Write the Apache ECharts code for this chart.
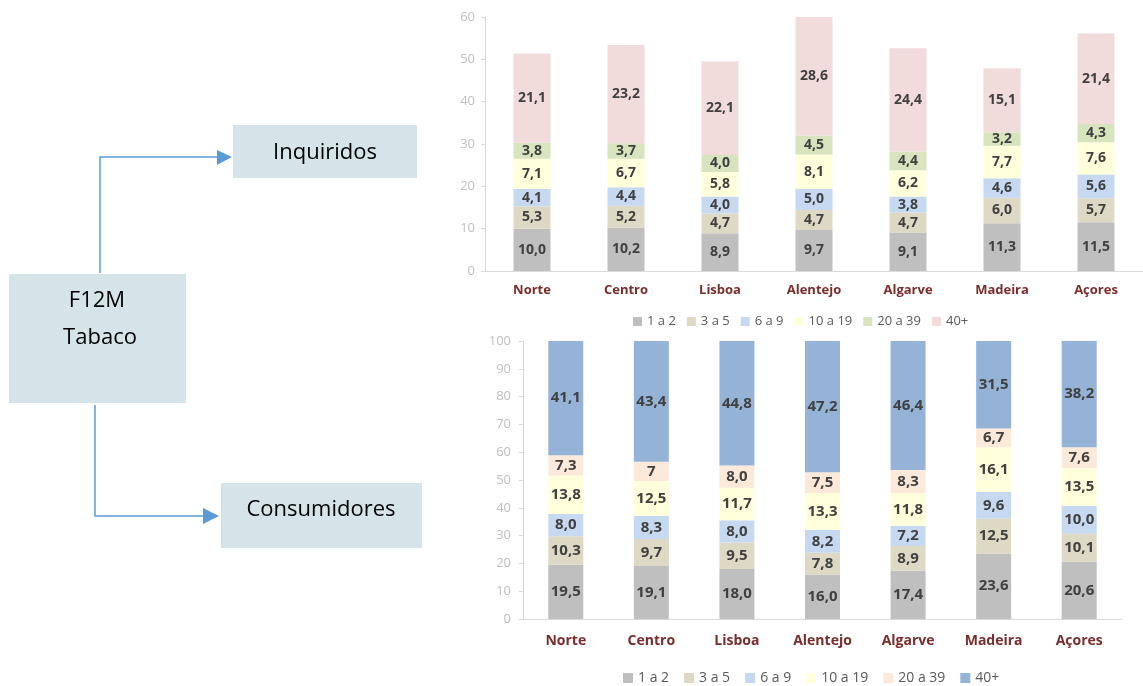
<!DOCTYPE html>
<html>
<head>
<meta charset="utf-8">
<script src="https://cdn.jsdelivr.net/npm/echarts@6/dist/echarts.min.js"></script>
<style>
  html, body { margin: 0; padding: 0; background: #ffffff; }
  #chart { width: 1143px; height: 686px; }
</style>
</head>
<body>
<div id="chart"></div>
<script>
// Regions (NUTS II)
const regions = ['Norte', 'Centro', 'Lisboa', 'Alentejo', 'Algarve', 'Madeira', 'Açores'];
// Daily consumption classes
const classes = ['1 a 2', '3 a 5', '6 a 9', '10 a 19', '20 a 39', '40+'];

// Inquiridos: share per class, by region (one decimal, as printed)
const inq_1a2   = ['10.0', '10.2', '8.9', '9.7', '9.1', '11.3', '11.5'];
const inq_3a5   = ['5.3', '5.2', '4.7', '4.7', '4.7', '6.0', '5.7'];
const inq_6a9   = ['4.1', '4.4', '4.0', '5.0', '3.8', '4.6', '5.6'];
const inq_10a19 = ['7.1', '6.7', '5.8', '8.1', '6.2', '7.7', '7.6'];
const inq_20a39 = ['3.8', '3.7', '4.0', '4.5', '4.4', '3.2', '4.3'];
const inq_40    = ['21.1', '23.2', '22.1', '28.6', '24.4', '15.1', '21.4'];

// Consumidores: share per class, by region
const con_1a2   = ['19.5', '19.1', '18.0', '16.0', '17.4', '23.6', '20.6'];
const con_3a5   = ['10.3', '9.7', '9.5', '7.8', '8.9', '12.5', '10.1'];
const con_6a9   = ['8.0', '8.3', '8.0', '8.2', '7.2', '9.6', '10.0'];
const con_10a19 = ['13.8', '12.5', '11.7', '13.3', '11.8', '16.1', '13.5'];
const con_20a39 = ['7.3', '7', '8.0', '7.5', '8.3', '6.7', '7.6'];
const con_40    = ['41.1', '43.4', '44.8', '47.2', '46.4', '31.5', '38.2'];

// Axis ticks
const inqTicks = { min: 0, max: 60, interval: 10 };
const conTicks = { min: 0, max: 100, interval: 10 };

const inqSets = [inq_1a2, inq_3a5, inq_6a9, inq_10a19, inq_20a39, inq_40];
const conSets = [con_1a2, con_3a5, con_6a9, con_10a19, con_20a39, con_40];

const inqColors = ['#bfbfbf', '#ddd9c4', '#c6d9f1', '#ffffdc', '#d7e4bd', '#f2dcdb'];
const conColors = ['#bfbfbf', '#ddd9c4', '#c6d9f1', '#ffffdc', '#fde9d9', '#95b3d7'];

const FONT = 'Open Sans';
const regionColor = '#7b2c2c';
const valueColor = '#404040';
const tickColor = '#bfbfbf';
const axisColor = '#d9d9d9';

function makeSeries(sets, colors, axisIdx, stackName, barWidth, fontSize) {
  return sets.map((arr, i) => ({
    name: classes[i],
    type: 'bar',
    stack: stackName,
    xAxisIndex: axisIdx,
    yAxisIndex: axisIdx,
    barWidth: barWidth,
    data: arr.map(Number),
    itemStyle: { color: colors[i] },
    label: {
      show: true,
      position: 'inside',
      fontFamily: FONT,
      fontWeight: 'bold',
      fontSize: fontSize,
      color: valueColor,
      formatter: p => arr[p.dataIndex].replace('.', ',')
    },
    emphasis: { disabled: true }
  }));
}

function catAxis(gridIndex, margin, fontSize) {
  return {
    type: 'category',
    gridIndex: gridIndex,
    data: regions,
    axisLine: { show: true, lineStyle: { color: axisColor, width: 1 } },
    axisTick: { show: false },
    axisLabel: {
      margin: margin,
      fontFamily: FONT,
      fontWeight: 'bold',
      fontSize: fontSize,
      color: regionColor
    }
  };
}

function valAxis(gridIndex, ticks, margin) {
  return {
    type: 'value',
    gridIndex: gridIndex,
    min: ticks.min,
    max: ticks.max,
    interval: ticks.interval,
    axisLine: { show: true, lineStyle: { color: axisColor, width: 1 } },
    axisTick: { show: true, length: 4, lineStyle: { color: axisColor } },
    splitLine: { show: false },
    axisLabel: {
      margin: margin,
      fontFamily: FONT,
      fontSize: 13,
      color: tickColor
    }
  };
}

function legendFor(colors, left, top, size, fontSize, gap) {
  return {
    left: left,
    top: top,
    padding: 0,
    icon: 'rect',
    itemWidth: size,
    itemHeight: size,
    itemGap: gap,
    selectedMode: false,
    textStyle: { fontFamily: FONT, fontSize: fontSize, color: '#595959' },
    data: classes.map((c, i) => ({ name: c, itemStyle: { color: colors[i] } }))
  };
}

const boxFill = '#d5e4e8';
const arrowColor = '#5b9bd5';

const chart = echarts.init(document.getElementById('chart'), null, { renderer: 'canvas' });

chart.setOption({
  backgroundColor: '#ffffff',
  animation: false,
  grid: [
    { left: 485, top: 17, width: 662, height: 254 },
    { left: 523, top: 341, width: 599, height: 278 }
  ],
  xAxis: [catAxis(0, 13, 13), catAxis(1, 15, 14)],
  yAxis: [valAxis(0, inqTicks, 10), valAxis(1, conTicks, 12)],
  legend: [
    legendFor(inqColors, 633, 315, 9, 13, 11),
    legendFor(conColors, 623, 671, 10, 14, 15)
  ],
  series: makeSeries(inqSets, inqColors, 0, 'inq', 37, 14)
    .concat(makeSeries(conSets, conColors, 1, 'con', 35, 15)),
  graphic: [
    // flow diagram boxes
    { type: 'rect', shape: { x: 9, y: 274, width: 177, height: 129 }, style: { fill: boxFill } },
    { type: 'rect', shape: { x: 233, y: 125, width: 184, height: 53 }, style: { fill: boxFill } },
    { type: 'rect', shape: { x: 221, y: 483, width: 201, height: 65 }, style: { fill: boxFill } },
    // box texts
    { type: 'text', x: 97, y: 301, style: { text: 'F12M', fontFamily: FONT, fontSize: 22, fill: '#000', align: 'center', verticalAlign: 'middle' } },
    { type: 'text', x: 100, y: 338, style: { text: 'Tabaco', fontFamily: FONT, fontSize: 22, fill: '#000', align: 'center', verticalAlign: 'middle' } },
    { type: 'text', x: 325, y: 153, style: { text: 'Inquiridos', fontFamily: FONT, fontSize: 22, fill: '#000', align: 'center', verticalAlign: 'middle' } },
    { type: 'text', x: 321, y: 510, style: { text: 'Consumidores', fontFamily: FONT, fontSize: 22, fill: '#000', align: 'center', verticalAlign: 'middle' } },
    // connectors
    { type: 'polyline', shape: { points: [[100, 273], [100, 157], [219, 157]] }, style: { stroke: arrowColor, lineWidth: 1.5, fill: null } },
    { type: 'polygon', shape: { points: [[217, 150], [232, 157], [217, 165]] }, style: { fill: arrowColor } },
    { type: 'polyline', shape: { points: [[95, 405], [95, 516], [205, 516]] }, style: { stroke: arrowColor, lineWidth: 1.5, fill: null } },
    { type: 'polygon', shape: { points: [[203, 508], [219, 516], [203, 524]] }, style: { fill: arrowColor } }
  ]
});
</script>
</body>
</html>
